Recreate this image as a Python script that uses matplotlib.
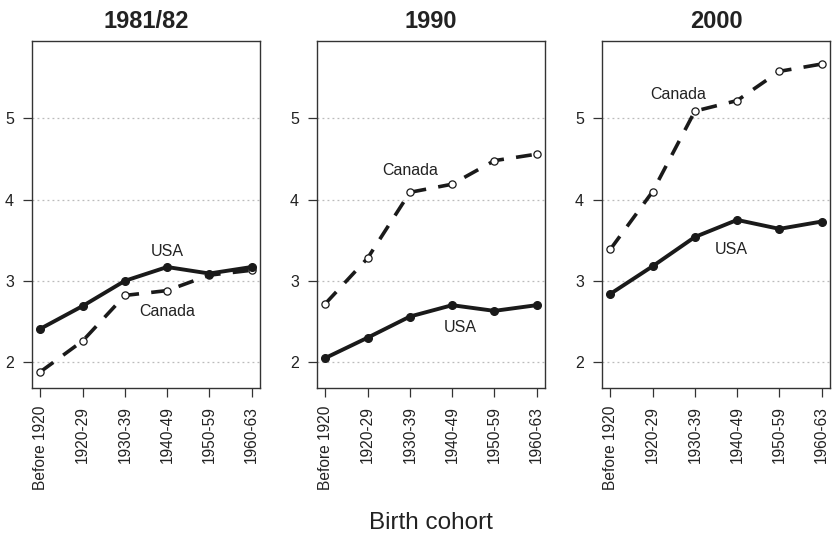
import matplotlib
matplotlib.use("Agg")
import matplotlib.pyplot as plt

plt.rcParams['font.family'] = ['Liberation Sans', 'DejaVu Sans']

cohorts = ["Before 1920", "1920-29", "1930-39", "1940-49", "1950-59", "1960-63"]
panels = ["1981/82", "1990", "2000"]

usa_1981 = [2.41, 2.69, 3.00, 3.17, 3.09, 3.17]
can_1981 = [1.88, 2.26, 2.82, 2.88, 3.07, 3.13]
usa_1990 = [2.05, 2.30, 2.56, 2.70, 2.63, 2.70]
can_1990 = [2.72, 3.28, 4.09, 4.19, 4.48, 4.56]
usa_2000 = [2.84, 3.18, 3.54, 3.75, 3.64, 3.73]
can_2000 = [3.39, 4.10, 5.09, 5.22, 5.58, 5.67]

usa_series = [usa_1981, usa_1990, usa_2000]
can_series = [can_1981, can_1990, can_2000]

# label positions (x index, y value) for each panel
usa_label_pos = [(4.0, 3.36), (4.2, 2.42), (3.86, 3.38)]
can_label_pos = [(4.0, 2.62), (3.0, 4.36), (2.6, 5.29)]

yticks = [2, 3, 4, 5]

W, H = 832, 534
fig = plt.figure(figsize=(W / 100, H / 100), dpi=100)

lefts = [32, 317, 602]
ax_w = 228
ax_top = 40.5
ax_bot = 388

x = list(range(1, len(cohorts) + 1))
box_color = '#333333'
txt_color = '#222222'

for i, name in enumerate(panels):
    ax = fig.add_axes([lefts[i] / W, (H - ax_bot) / H, ax_w / W, (ax_bot - ax_top) / H])
    ax.set_xlim(0.8, 6.2)
    ax.set_ylim(1.68, 5.96)
    for yv in yticks:
        ax.axhline(yv, color='#bbbbbb', lw=0.9, ls=(0, (1.5, 2.5)), zorder=1)
    ax.plot(x, can_series[i], color='#1a1a1a', lw=2.6, ls=(0, (4.4, 3.4)),
            dash_capstyle='butt', solid_capstyle='round', zorder=3)
    ax.plot(x, can_series[i], ls='none', marker='o', markersize=5.2,
            markerfacecolor='white', markeredgecolor='#1a1a1a', markeredgewidth=0.9, zorder=4)
    ax.plot(x, usa_series[i], color='#1a1a1a', lw=2.8, ls='-',
            solid_capstyle='round', solid_joinstyle='round',
            marker='o', markersize=5.5, markerfacecolor='#1a1a1a',
            markeredgecolor='#1a1a1a', zorder=5)
    ux, uy = usa_label_pos[i]
    cx, cy = can_label_pos[i]
    ax.text(ux, uy, "USA", ha='center', va='center', fontsize=11.5, color=txt_color)
    ax.text(cx, cy, "Canada", ha='center', va='center', fontsize=11.5, color=txt_color)

    ax.set_xticks(x)
    ax.set_xticklabels(cohorts, rotation=90, fontsize=11.2, color=txt_color)
    ax.set_yticks(yticks)
    ax.set_yticklabels([str(v) for v in yticks], fontsize=11.5, color=txt_color)
    ax.tick_params(axis='both', direction='out', length=6.5, width=0.9,
                   color=box_color, pad=6.5)
    for sp in ax.spines.values():
        sp.set_color(box_color)
        sp.set_linewidth(1.0)
    ax.set_title(name, fontsize=17, fontweight='bold', pad=9, color=txt_color)

fig.text(431 / W, (H - 529) / H, "Birth cohort", ha='center', va='baseline',
         fontsize=17.5, color=txt_color)

fig.savefig("out.png", dpi=100)
